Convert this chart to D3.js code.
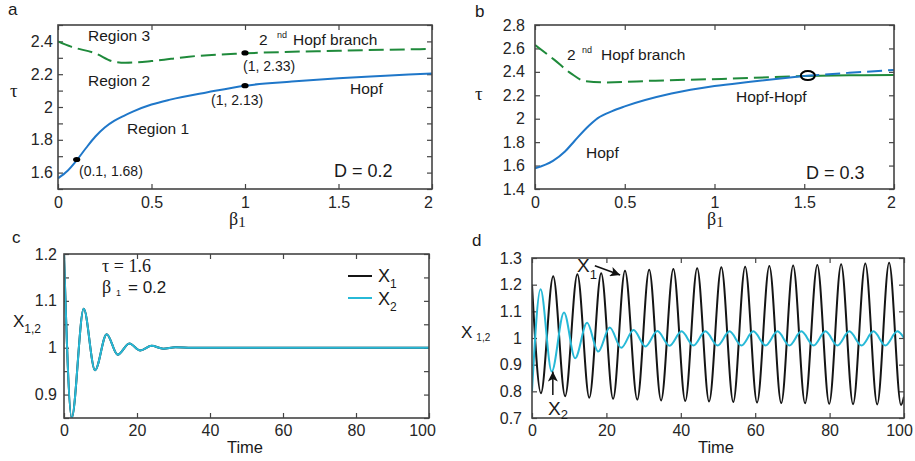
<!DOCTYPE html>
<html>
<head>
<meta charset="utf-8">
<script src="https://d3js.org/d3.v7.min.js"></script>
<style>
  body { margin: 0; background: #fff; }
  svg text { font-family: "Liberation Sans", Arial, sans-serif; fill: #1a1a1a; }
  .axis text { font-size: 16px; fill: #262626; }
  .axis line { stroke: #444; stroke-width: 1.2; }
  .serif { font-family: "Liberation Serif", "DejaVu Serif", serif; }
</style>
</head>
<body>
<svg id="fig" width="915" height="461"></svg>
<script>
// ---- values ----
// a : D = 0.2
var betaHopfA   = [0, 0.05, 0.1, 0.15, 0.2, 0.25, 0.3, 0.35, 0.4, 0.5, 0.6, 0.8, 1, 1.25, 1.5, 1.75, 2];
var tauHopfA    = [1.565, 1.61, 1.675, 1.75, 1.82, 1.875, 1.915, 1.945, 1.972, 2.015, 2.045, 2.09, 2.13, 2.155, 2.175, 2.19, 2.205];
var betaBranchA = [0, 0.07, 0.2, 0.3, 0.36, 0.5, 0.7, 1, 1.5, 2];
var tauBranchA  = [2.4, 2.368, 2.327, 2.276, 2.27, 2.28, 2.307, 2.327, 2.343, 2.354];
var pointsA     = [[0.1, 1.68], [1, 2.13], [1, 2.33]];

// b : D = 0.3
var betaHopfB    = [0, 0.1, 0.167, 0.22, 0.3, 0.35, 0.43, 0.5, 0.76, 1, 1.2, 1.5];
var tauHopfB     = [1.576, 1.64, 1.72, 1.81, 1.94, 2.005, 2.065, 2.105, 2.215, 2.279, 2.315, 2.365];
var betaHopfB2   = [1.5, 1.75, 2];
var tauHopfB2    = [2.365, 2.392, 2.416];
var betaBranchB  = [0, 0.11, 0.2, 0.28, 0.39, 0.67, 1.04, 1.5];
var tauBranchB   = [2.629, 2.5, 2.387, 2.32, 2.31, 2.325, 2.34, 2.365];
var betaBranchB2 = [1.5, 1.75, 2];
var tauBranchB2  = [2.365, 2.37, 2.373];
var hopfHopfB    = [1.52, 2.368];

// c : tau = 1.6, beta1 = 0.2 (turning points of the damped response)
var timeC = [0, 2.1, 5.4, 8.5, 11.7, 14.7, 17.9, 20.9, 24.0, 27.2, 30.5, 35, 100];
var x1C   = [1.2, 0.85, 1.083, 0.952, 1.029, 0.985, 1.009, 0.994, 1.004, 0.998, 1.001, 1.0, 1.0];
var x2C   = [1.2, 0.85, 1.083, 0.952, 1.029, 0.985, 1.009, 0.994, 1.004, 0.998, 1.001, 1.0, 1.0];

// d : turning points of the sustained oscillation
var timeX1D = [0, 2.4, 5.7, 8.9, 12.2, 15.4, 18.6, 21.8, 25.0, 28.3, 31.5, 34.7, 38.0, 41.2, 44.4,
               47.6, 50.9, 54.1, 57.3, 60.5, 63.8, 67.0, 70.2, 73.4, 76.7, 79.9, 83.1, 86.3, 89.6, 92.8, 96.0, 99.2, 100];
var x1D     = [1.2, 0.793, 1.232, 0.782, 1.239, 0.776, 1.243, 0.772, 1.252, 0.769, 1.256, 0.766, 1.259, 0.764, 1.262,
               0.762, 1.265, 0.76, 1.267, 0.758, 1.27, 0.756, 1.272, 0.755, 1.274, 0.753, 1.277, 0.752, 1.279, 0.751, 1.282, 0.749, 0.78];
var timeX2D = [0, 2.3, 5.3, 8.6, 11.6, 14.8, 17.8, 20.9, 24.0, 27.3, 30.5, 33.7, 37.0, 40.2, 43.4, 46.6, 49.9,
               53.1, 56.3, 59.5, 62.8, 66.0, 69.2, 72.4, 75.7, 78.9, 82.1, 85.3, 88.6, 91.8, 95.0, 98.2, 100];
var x2D     = [0.8, 1.183, 0.874, 1.096, 0.924, 1.057, 0.949, 1.039, 0.963, 1.03, 0.968, 1.026, 0.971, 1.025, 0.972, 1.025, 0.972,
               1.025, 0.972, 1.025, 0.972, 1.025, 0.972, 1.025, 0.972, 1.025, 0.972, 1.025, 0.972, 1.025, 0.972, 1.025, 1.0];

var blue = "#1f77c9", green = "#1f8a3b", cyan = "#27b9d7", black = "#151515";

var svg = d3.select("#fig");
var defs = svg.append("defs");
defs.append("marker").attr("id", "arrow")
  .attr("viewBox", "0 0 10 10").attr("refX", 10).attr("refY", 5)
  .attr("markerWidth", 15).attr("markerHeight", 10).attr("markerUnits", "userSpaceOnUse")
  .attr("orient", "auto")
  .append("path").attr("d", "M0,0L10,5L0,10L2.5,5z").attr("fill", "#111");

function num(d) { return String(+d.toFixed(2)); }
function range(a, b, s) { return d3.range(a, b + s / 2, s).map(function(v) { return +v.toFixed(3); }); }

function panel(o) {
  var g = svg.append("g");
  var x = d3.scaleLinear().domain(o.xd).range([o.l, o.r]);
  var y = d3.scaleLinear().domain(o.yd).range([o.b, o.t]);
  var yfmt = function(d) {
    return o.yLab.some(function(v) { return Math.abs(v - d) < 1e-6; }) ? num(d) : "";
  };
  var id = "clip" + o.name;
  defs.append("clipPath").attr("id", id).append("rect")
    .attr("x", o.l).attr("y", o.t).attr("width", o.r - o.l).attr("height", o.b - o.t);

  var bx = g.append("g").attr("class", "axis").attr("transform", "translate(0," + o.b + ")")
    .call(d3.axisBottom(x).tickValues(o.xt).tickSize(-5).tickPadding(o.xpad).tickFormat(num));
  // last label sits a little left of its tick in the original
  bx.selectAll(".tick:last-of-type text").attr("dx", o.lastDx || 0);
  g.append("g").attr("class", "axis").attr("transform", "translate(0," + o.t + ")")
    .call(d3.axisTop(x).tickValues(o.xt).tickSize(-5).tickFormat(""));
  g.append("g").attr("class", "axis").attr("transform", "translate(" + o.l + ",0)")
    .call(d3.axisLeft(y).tickValues(o.yt).tickSize(-5).tickPadding(o.ypad).tickFormat(yfmt));
  g.append("g").attr("class", "axis").attr("transform", "translate(" + o.r + ",0)")
    .call(d3.axisRight(y).tickValues(o.yt).tickSize(-5).tickFormat(""));
  g.selectAll(".axis .domain").remove();
  g.selectAll(".axis").attr("font-family", null).attr("font-size", null);

  var plot = g.append("g").attr("clip-path", "url(#" + id + ")");
  g.append("rect").attr("x", o.l).attr("y", o.t).attr("width", o.r - o.l).attr("height", o.b - o.t)
    .attr("fill", "none").attr("stroke", "#444").attr("stroke-width", 1.6);
  return { g: g, plot: plot, x: x, y: y };
}

function curve(p, xs, ys, color, dash) {
  var line = d3.line().curve(d3.curveMonotoneX)
    .x(function(d) { return p.x(d[0]); }).y(function(d) { return p.y(d[1]); });
  p.plot.append("path").datum(d3.zip(xs, ys)).attr("d", line)
    .attr("fill", "none").attr("stroke", color).attr("stroke-width", 2)
    .attr("stroke-dasharray", dash || null).attr("stroke-linejoin", "round");
}

function text(x, y, s, size, cls) {
  return svg.append("text").attr("x", x).attr("y", y).attr("font-size", size)
    .attr("class", cls || null).text(s);
}

// ---------- a ----------
var pa = panel({ name: "a", l: 58, r: 432, t: 25, b: 189, xd: [0, 2], yd: [1.5, 2.5],
  xt: range(0, 2, 0.5), yt: range(1.5, 2.5, 0.1), yLab: [1.6, 1.8, 2, 2.2, 2.4], xpad: 8, ypad: 5, lastDx: -4 });
curve(pa, betaBranchA, tauBranchA, green, "15,6");
curve(pa, betaHopfA, tauHopfA, blue);
pa.g.selectAll(".pt").data(pointsA).join("ellipse")
  .attr("cx", function(d) { return pa.x(d[0]); }).attr("cy", function(d) { return pa.y(d[1]); })
  .attr("rx", 3.6).attr("ry", 2.6).attr("fill", "#000");

text(8, 15, "a", 17);
text(10, 97, "τ", 19, "serif");
var ba = text(229, 225, "β", 18, "serif");
ba.append("tspan").attr("font-size", 15).attr("dy", 2).text("1");
text(88, 41, "Region 3", 15.5);
text(259, 45, "2", 15.5);
text(277, 38, "nd", 9);
text(293, 45, "Hopf branch", 15.5);
text(243, 71, "(1, 2.33)", 14);
text(88, 86, "Region 2", 15.5);
text(211, 105, "(1, 2.13)", 14);
text(350, 94, "Hopf", 15.5);
text(127, 134, "Region 1", 15.5);
text(79, 176, "(0.1, 1.68)", 14);
text(334, 177, "D = 0.2", 18);

// ---------- b ----------
var pb = panel({ name: "b", l: 535, r: 894, t: 25, b: 189, xd: [0, 2], yd: [1.4, 2.8],
  xt: range(0, 2, 0.5), yt: range(1.4, 2.8, 0.2), yLab: range(1.4, 2.8, 0.2), xpad: 8, ypad: 10, lastDx: -3 });
curve(pb, betaBranchB2, tauBranchB2, green);
curve(pb, betaHopfB2, tauHopfB2, blue, "15,6");
curve(pb, betaBranchB, tauBranchB, green, "15,6");
curve(pb, betaHopfB, tauHopfB, blue);
pb.g.append("ellipse").attr("cx", pb.x(hopfHopfB[0])).attr("cy", pb.y(hopfHopfB[1]))
  .attr("rx", 7).attr("ry", 4.5).attr("fill", "none").attr("stroke", "#000").attr("stroke-width", 2);

text(475, 17, "b", 17);
text(475, 100, "τ", 19, "serif");
var bb = text(707, 225, "β", 18, "serif");
bb.append("tspan").attr("font-size", 15).attr("dy", 2).text("1");
text(567, 60, "2", 15.5);
text(582, 53, "nd", 9);
text(601, 60, "Hopf branch", 15.5);
text(736, 102, "Hopf-Hopf", 15.5);
text(586, 158, "Hopf", 15.5);
text(806, 179, "D = 0.3", 18);

// ---------- c ----------
var pc = panel({ name: "c", l: 64, r: 429, t: 254, b: 418, xd: [0, 100], yd: [0.85, 1.2],
  xt: range(0, 100, 20), yt: range(0.85, 1.2, 0.05), yLab: [0.9, 1, 1.1, 1.2], xpad: 7, ypad: 7, lastDx: -7 });
curve(pc, timeC, x1C, black);
curve(pc, timeC, x2C, cyan);

text(12, 243, "c", 17);
var xc = text(13, 327, "X", 17);
xc.append("tspan").attr("font-size", 12).attr("dy", 6).text("1,2");
svg.append("text").attr("x", 245).attr("y", 453).attr("font-size", 16.5)
  .attr("text-anchor", "middle").text("Time");
text(102, 272, "τ = 1.6", 18, "serif");
text(102, 293, "β", 18, "serif");
text(116, 296, "1", 9);
text(128, 293, "= 0.2", 17);
// legend
svg.append("line").attr("x1", 348).attr("x2", 372).attr("y1", 276).attr("y2", 276)
  .attr("stroke", black).attr("stroke-width", 2);
svg.append("line").attr("x1", 348).attr("x2", 372).attr("y1", 298).attr("y2", 298)
  .attr("stroke", cyan).attr("stroke-width", 2);
var l1 = text(378, 282, "X", 18);
l1.append("tspan").attr("font-size", 12).attr("dy", 6).text("1");
var l2 = text(378, 305, "X", 18);
l2.append("tspan").attr("font-size", 12).attr("dy", 6).text("2");

// ---------- d ----------
var pd = panel({ name: "d", l: 532, r: 904, t: 258, b: 418, xd: [0, 100], yd: [0.7, 1.3],
  xt: range(0, 100, 20), yt: range(0.7, 1.3, 0.1), yLab: range(0.7, 1.3, 0.1), xpad: 7, ypad: 10, lastDx: -5 });
curve(pd, timeX1D, x1D, black);
curve(pd, timeX2D, x2D, cyan);

text(472, 246, "d", 17);
var xd = text(461, 338, "X", 17);
xd.append("tspan").attr("font-size", 10).attr("dx", 4).attr("dy", 3).text("1,2");
svg.append("text").attr("x", 716).attr("y", 453).attr("font-size", 16.5)
  .attr("text-anchor", "middle").text("Time");
var a1 = text(577, 272, "X", 19);
a1.append("tspan").attr("font-size", 13).attr("dy", 7).text("1");
var a2 = text(548, 415, "X", 19);
a2.append("tspan").attr("font-size", 13).attr("dy", 4).text("2");
svg.append("line").attr("x1", pd.x(16.9)).attr("y1", pd.y(1.271)).attr("x2", pd.x(23.7)).attr("y2", pd.y(1.236))
  .attr("stroke", "#111").attr("stroke-width", 1.5).attr("marker-end", "url(#arrow)");
svg.append("line").attr("x1", pd.x(5.6)).attr("y1", pd.y(0.786)).attr("x2", pd.x(5.6)).attr("y2", pd.y(0.874))
  .attr("stroke", "#111").attr("stroke-width", 1.5).attr("marker-end", "url(#arrow)");
</script>
</body>
</html>
